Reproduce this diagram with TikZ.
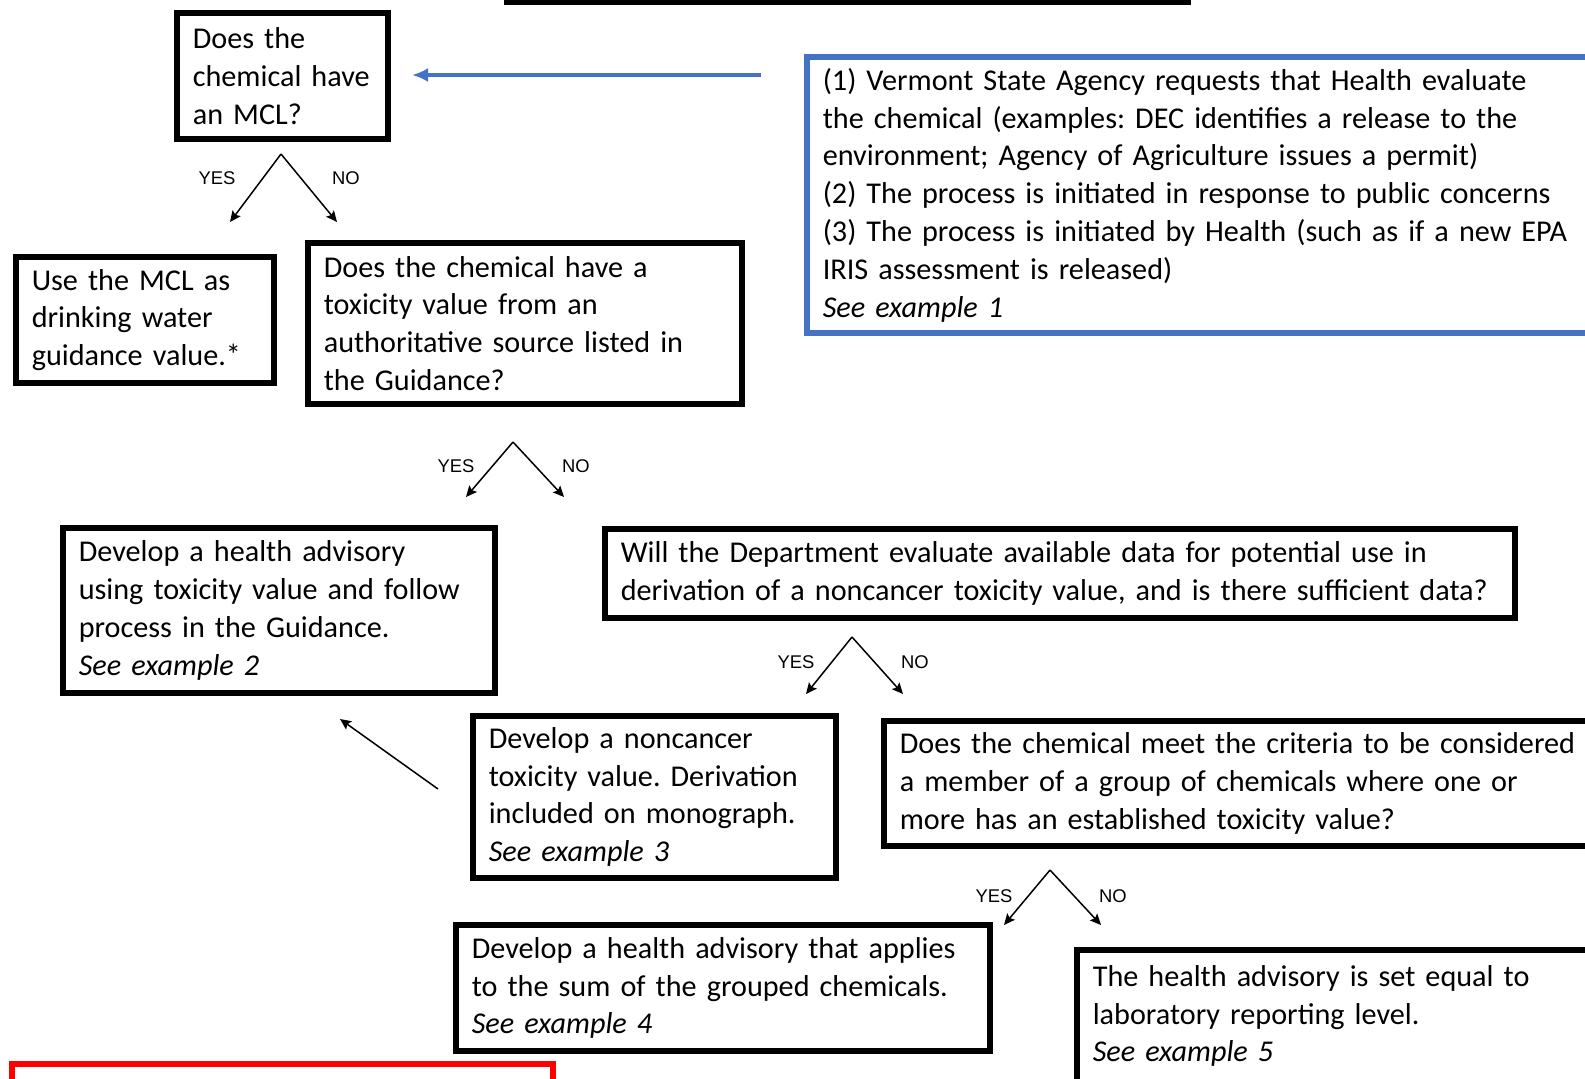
\documentclass[tikz,border=0pt]{standalone}
\usepackage{fontspec}
\setmainfont{Carlito}
\newfontfamily\lblfont{Liberation Sans}
\usetikzlibrary{arrows.meta}
\definecolor{hblue}{RGB}{68,114,196}
\frenchspacing

\begin{document}
\begin{tikzpicture}[x=0.5pt,y=-0.5pt]
		\tikzset{qbox/.style={draw, line width=2.8pt, anchor=north west, inner xsep=8pt, inner ysep=0pt, align=left, font=\fontsize{15.1pt}{18.9pt}\selectfont},
			yn/.style={font=\lblfont\fontsize{9.2pt}{10pt}\selectfont, text=black, inner sep=0pt},
			fork/.style={line width=0.75pt, -{Stealth[length=5.5pt,width=5pt,inset=1pt]}}}
		\useasboundingbox (0,0) rectangle (1585,1078);
		\clip (0,0) rectangle (1585,1078);
		% boxes cut by the page edge
		\draw [line width=2.8pt] (507,-200) rectangle (1188,2);
		\draw [red, line width=2.8pt] (12,1064) rectangle (553,1200);
		% question and answer boxes
		\node [qbox, text width=89.7pt, minimum height=63.2pt] (mcl) at (174,10) {Does the\\chemical have\\an MCL?};
		\node [qbox, draw=hblue, text width=391.2pt, minimum height=138.2pt] (start) at (804,54) {(1) Vermont State Agency requests that Health evaluate\\the chemical (examples: DEC identifies a release to the\\environment; Agency of Agriculture issues a permit)\\(2) The process is initiated in response to public concerns\\(3) The process is initiated by Health (such as if a new EPA\\IRIS assessment is released)\\\textit{See example 1}};
		\node [qbox, text width=113.2pt, minimum height=63.2pt] (usemcl) at (13,254) {Use the MCL as\\drinking water\\guidance value.*};
		\node [qbox, text width=201.2pt, minimum height=80.7pt] (toxval) at (305,240) {Does the chemical have a\\toxicity value from an\\authoritative source listed in\\the Guidance?};
		\node [qbox, text width=200.2pt, minimum height=82.7pt] (advisory) at (60,525) {Develop a health advisory\\using toxicity value and follow\\process in the Guidance.\\\textit{See example 2}};
		\node [qbox, text width=439.2pt, minimum height=44.7pt] (evaluate) at (602,526) {Will the Department evaluate available data for potential use in\\derivation of a noncancer toxicity value, and is there sufficient data?};
		\node [qbox, text width=165.7pt, minimum height=81.2pt] (noncancer) at (470,713) {Develop a noncancer\\toxicity value. Derivation\\included on monograph.\\\textit{See example 3}};
		\node [qbox, text width=371.2pt, minimum height=62.7pt] (group) at (881,718) {Does the chemical meet the criteria to be considered\\a member of a group of chemicals where one or\\more has an established toxicity value?};
		\node [qbox, text width=251.2pt, minimum height=63.2pt] (sumadv) at (453,922) {Develop a health advisory that applies\\to the sum of the grouped chemicals.\\\textit{See example 4}};
		\node [qbox, text width=261.2pt, minimum height=66.2pt] (lrl) at (1074,947) {The health advisory is set equal to\\laboratory reporting level.\\\textit{See example 5}};
		% fork points
		\coordinate (f1) at (281,154);
		\coordinate (f1y) at (230,222);
		\coordinate (f1n) at (337,222);
		\coordinate (f2) at (513,442);
		\coordinate (f2y) at (466,497);
		\coordinate (f2n) at (564,497);
		\coordinate (f3) at (852,637);
		\coordinate (f3y) at (806,694);
		\coordinate (f3n) at (903,694);
		\coordinate (f4) at (1050,870);
		\coordinate (f4y) at (1004,925);
		\coordinate (f4n) at (1101,925);
		\coordinate (tail) at (438,789);
		\coordinate (head) at (340,719);
		\coordinate (blue) at (761,75);
		\coordinate (bluehead) at (412,75);
		% connectors
		\draw [hblue, line width=2pt, -{Latex[length=8pt,width=7pt]}] (blue) -- (bluehead);
		\draw [fork] (f1) -- (f1y);
		\draw [fork] (f1) -- (f1n);
		\draw [fork] (f2) -- (f2y);
		\draw [fork] (f2) -- (f2n);
		\draw [fork] (f3) -- (f3y);
		\draw [fork] (f3) -- (f3n);
		\draw [fork] (f4) -- (f4y);
		\draw [fork] (f4) -- (f4n);
		\draw [fork] (tail) -- (head);
		% labels
		\node [yn] (y1) at (217,178) {YES};
		\node [yn] (n1) at (346,178) {NO};
		\node [yn] (y2) at (456,466) {YES};
		\node [yn] (n2) at (576,466) {NO};
		\node [yn] (y3) at (796,662) {YES};
		\node [yn] (n3) at (915,662) {NO};
		\node [yn] (y4) at (994,896) {YES};
		\node [yn] (n4) at (1113,896) {NO};
\end{tikzpicture}
\end{document}
